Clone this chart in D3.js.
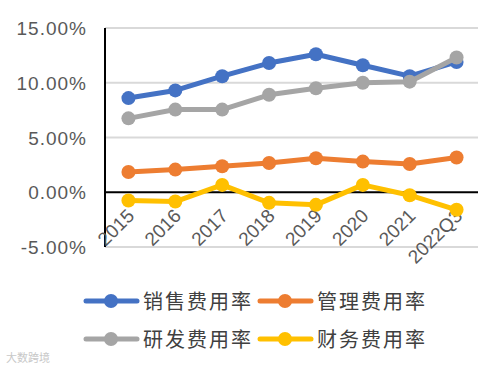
<!DOCTYPE html>
<html>
<head>
<meta charset="utf-8">
<script src="https://cdnjs.cloudflare.com/ajax/libs/d3/7.8.5/d3.min.js"></script>
<style>
  body { margin: 0; background: #fff; }
  text { font-family: "Liberation Sans", Arial, sans-serif; }
</style>
</head>
<body>
<script>
var years = ['2015', '2016', '2017', '2018', '2019', '2020', '2021', '2022Q3'];
var seriesNames = ['销售费用率', '管理费用率', '研发费用率', '财务费用率'];
var colors = ['#4472C4', '#ED7D31', '#A5A5A5', '#FFC000'];
var salesRate = [8.6, 9.3, 10.6, 11.8, 12.6, 11.6, 10.6, 11.9];
var adminRate = [1.85, 2.07, 2.37, 2.67, 3.1, 2.8, 2.58, 3.17];
var rdRate = [6.75, 7.55, 7.55, 8.9, 9.5, 10.0, 10.1, 12.3];
var financeRate = [-0.75, -0.85, 0.67, -0.97, -1.15, 0.67, -0.27, -1.6];
var yTicks = [-5, 0, 5, 10, 15];

var allSeries = [salesRate, adminRate, rdRate, financeRate];
// draw order: gray over blue at the end like the original
var drawOrder = [0, 1, 3, 2];

var svg = d3.select('body').append('svg')
            .attr('width', 490)
            .attr('height', 370);

var x = d3.scaleBand().domain(years).range([105, 480]);
var y = d3.scaleLinear().domain([-5, 15]).range([247, 28]);

// gridlines
svg.append('g')
   .selectAll('line')
   .data(yTicks.filter(function(d) { return d !== 0; }))
   .enter().append('line')
   .attr('x1', 105)
   .attr('x2', 478)
   .attr('y1', function(d) { return y(d); })
   .attr('y2', function(d) { return y(d); })
   .style('stroke', '#d9d9d9')
   .style('stroke-width', 2);

// y labels
svg.append('g')
   .selectAll('text')
   .data(yTicks)
   .enter().append('text')
   .attr('x', 87)
   .attr('y', function(d) { return y(d) + 7; })
   .attr('text-anchor', 'end')
   .style('font-size', '19px')
   .style('letter-spacing', '1px')
   .style('fill', '#595959')
   .text(function(d) { return d.toFixed(2) + '%'; });

// axis lines
svg.append('line')
   .attr('x1', 105).attr('x2', 105)
   .attr('y1', y(15)).attr('y2', y(-5))
   .style('stroke', '#000').style('stroke-width', 2);
svg.append('line')
   .attr('x1', 105).attr('x2', 478)
   .attr('y1', y(0)).attr('y2', y(0))
   .style('stroke', '#000').style('stroke-width', 2);

// x labels
svg.append('g')
   .selectAll('text')
   .data(years)
   .enter().append('text')
   .attr('text-anchor', 'end')
   .attr('transform', function(d) {
     return 'translate(' + (x(d) + x.bandwidth() / 2 + 7) + ',' + 217 + ') rotate(-45)';
   })
   .style('font-size', '19px')
   .style('fill', '#595959')
   .text(function(d) { return d; });

var line = d3.line()
             .x(function(d, i) { return x(years[i]) + x.bandwidth() / 2; })
             .y(function(d) { return y(d); });

drawOrder.forEach(function(k) {
  var g = svg.append('g');
  g.append('path')
   .datum(allSeries[k])
   .attr('d', line)
   .style('fill', 'none')
   .style('stroke', colors[k])
   .style('stroke-width', 5)
   .style('stroke-linejoin', 'round');
  g.selectAll('circle')
   .data(allSeries[k])
   .enter().append('circle')
   .attr('cx', function(d, i) { return x(years[i]) + x.bandwidth() / 2; })
   .attr('cy', function(d) { return y(d); })
   .attr('r', 7)
   .style('fill', colors[k]);
});

// legend
var legendPos = [[86, 301], [260, 301], [86, 339], [260, 339]];
seriesNames.forEach(function(name, k) {
  var p = legendPos[k];
  var g = svg.append('g').attr('transform', 'translate(' + p[0] + ',' + p[1] + ')');
  g.append('line')
   .attr('x1', 0).attr('x2', 51)
   .attr('y1', 0).attr('y2', 0)
   .style('stroke', colors[k])
   .style('stroke-width', 5)
   .style('stroke-linecap', 'round');
  g.append('circle')
   .attr('cx', 25).attr('cy', 0).attr('r', 7)
   .style('fill', colors[k]);
  g.append('text')
   .attr('x', 57).attr('y', 8)
   .style('font-family', '"Noto Sans CJK SC", sans-serif')
   .style('font-size', '20px')
   .style('letter-spacing', '2px')
   .style('fill', '#404040')
   .text(name);
});

// watermark
svg.append('text')
   .attr('x', 6).attr('y', 362)
   .style('font-family', '"Noto Sans CJK SC", sans-serif')
   .style('font-size', '11px')
   .style('fill', '#c8c8c8')
   .text('大数跨境');
</script>
</body>
</html>
